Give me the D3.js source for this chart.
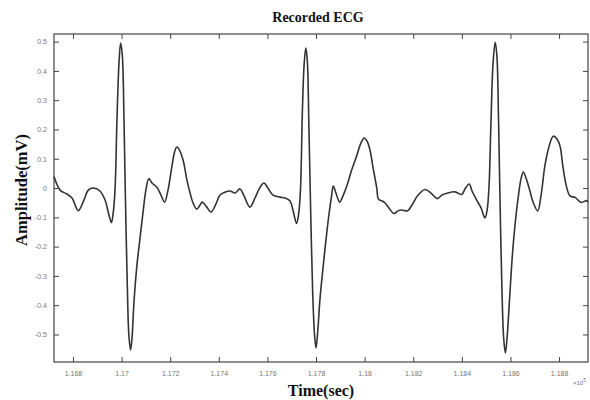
<!DOCTYPE html>
<html>
<head>
<meta charset="utf-8">
<script src="https://cdn.jsdelivr.net/npm/d3@7/dist/d3.min.js"></script>
<style>
  html, body { margin: 0; padding: 0; background: #fff; }
  svg { display: block; }
  .tick text { font-family: "Liberation Sans", Arial, sans-serif; font-size: 7px; fill: #777; }
</style>
</head>
<body>
<svg id="chart" width="590" height="400"></svg>
<script>
// Sample times (x 10^5 s) and recorded amplitudes (mV)
const timeSec = [
  1.16722, 1.16747, 1.16774, 1.16796, 1.16822, 1.16845, 1.16863, 1.16884, 1.16911, 1.16932,
  1.16948, 1.16958, 1.16965, 1.16973, 1.16981, 1.16989, 1.16996, 1.17003, 1.17010, 1.17016,
  1.17024, 1.17030, 1.17037, 1.17043, 1.17051, 1.17063, 1.17076, 1.17088, 1.17100, 1.17112,
  1.17125, 1.17146, 1.17162, 1.17177, 1.17191, 1.17206, 1.17218, 1.17227, 1.17236, 1.17253,
  1.17269, 1.17281, 1.17294, 1.17309, 1.17323, 1.17332, 1.17347, 1.17368, 1.17388, 1.17405,
  1.17425, 1.17446, 1.17467, 1.17487, 1.17504, 1.17528, 1.17549, 1.17570, 1.17586, 1.17602,
  1.17623, 1.17652, 1.17672, 1.17693, 1.17705, 1.17720, 1.17728, 1.17736, 1.17744, 1.17751,
  1.17758, 1.17764, 1.17771, 1.17777, 1.17786, 1.17794, 1.17800, 1.17806, 1.17816, 1.17830,
  1.17841, 1.17853, 1.17864, 1.17871, 1.17882, 1.17897, 1.17911, 1.17928, 1.17944, 1.17967,
  1.17985, 1.17998, 1.18010, 1.18022, 1.18035, 1.18050, 1.18057, 1.18072, 1.18084, 1.18100,
  1.18121, 1.18137, 1.18153, 1.18176, 1.18195, 1.18220, 1.18249, 1.18273, 1.18299, 1.18318,
  1.18338, 1.18372, 1.18400, 1.18413, 1.18430, 1.18442, 1.18461, 1.18479, 1.18495, 1.18504,
  1.18512, 1.18520, 1.18528, 1.18537, 1.18544, 1.18551, 1.18557, 1.18565, 1.18572, 1.18579,
  1.18586, 1.18596, 1.18605, 1.18613, 1.18623, 1.18633, 1.18644, 1.18653, 1.18664, 1.18679,
  1.18693, 1.18712, 1.18726, 1.18742, 1.18759, 1.18776, 1.18792, 1.18804, 1.18816, 1.18829,
  1.18845, 1.18866, 1.18890, 1.18914, 1.18919
];
const amplitudeMv = [
  0.039, -0.007, -0.020, -0.034, -0.077, -0.041, -0.007, 0.000, -0.010, -0.041,
  -0.092, -0.118, -0.089, -0.007, 0.232, 0.420, 0.495, 0.454, 0.232, -0.041,
  -0.348, -0.502, -0.553, -0.512, -0.390, -0.265, -0.170, -0.085, -0.007, 0.032,
  0.017, 0.002, -0.024, -0.048, -0.007, 0.068, 0.123, 0.140, 0.133, 0.096,
  0.027, -0.014, -0.051, -0.072, -0.058, -0.048, -0.061, -0.082, -0.055, -0.024,
  -0.014, -0.010, -0.017, -0.003, -0.027, -0.065, -0.034, 0.003, 0.017, 0.000,
  -0.024, -0.031, -0.034, -0.044, -0.075, -0.121, -0.092, -0.007, 0.266, 0.420,
  0.478, 0.437, 0.198, -0.041, -0.348, -0.502, -0.546, -0.502, -0.382, -0.263,
  -0.177, -0.092, -0.027, 0.007, -0.017, -0.048, -0.027, 0.010, 0.055, 0.109,
  0.154, 0.171, 0.160, 0.130, 0.068, 0.000, -0.038, -0.044, -0.051, -0.068,
  -0.087, -0.078, -0.075, -0.078, -0.058, -0.024, -0.005, -0.017, -0.036, -0.024,
  -0.018, -0.013, -0.022, -0.003, 0.014, -0.010, -0.041, -0.068, -0.102, -0.075,
  0.010, 0.232, 0.420, 0.498, 0.454, 0.232, -0.041, -0.348, -0.512, -0.563,
  -0.512, -0.382, -0.263, -0.177, -0.092, -0.024, 0.034, 0.055, 0.034, -0.007,
  -0.048, -0.078, -0.024, 0.078, 0.143, 0.177, 0.167, 0.143, 0.072, 0.010,
  -0.027, -0.032, -0.049, -0.043, -0.048
];
const xTickValues = [1.168, 1.170, 1.172, 1.174, 1.176, 1.178, 1.180, 1.182, 1.184, 1.186, 1.188];
const xTickLabels = ["1.168", "1.17", "1.172", "1.174", "1.176", "1.178", "1.18", "1.182", "1.184", "1.186", "1.188"];
const yTickValues = [-0.5, -0.4, -0.3, -0.2, -0.1, 0, 0.1, 0.2, 0.3, 0.4, 0.5];
const yTickLabels = ["-0.5", "-0.4", "-0.3", "-0.2", "-0.1", "0", "0.1", "0.2", "0.3", "0.4", "0.5"];
const xDomain = [1.16722, 1.18919];
const yDomain = [-0.594, 0.526];

const svg = d3.select("#chart");
const m = { left: 54, top: 34, right: 588, bottom: 362 };

const x = d3.scaleLinear().domain(xDomain).range([m.left, m.right]);
const y = d3.scaleLinear().domain(yDomain).range([m.bottom, m.top]);

const tickLen = 5;
const axisColor = "#444";

// Bottom axis with inward ticks
const gx = svg.append("g").attr("transform", `translate(0,${m.bottom})`)
  .call(d3.axisBottom(x).tickValues(xTickValues)
    .tickFormat((d, i) => xTickLabels[i]).tickSize(-tickLen).tickPadding(9));
// Top ticks
const gxt = svg.append("g").attr("transform", `translate(0,${m.top})`)
  .call(d3.axisTop(x).tickValues(xTickValues).tickFormat("").tickSize(-tickLen));
// Left axis with inward ticks
const gy = svg.append("g").attr("transform", `translate(${m.left},0)`)
  .call(d3.axisLeft(y).tickValues(yTickValues)
    .tickFormat((d, i) => yTickLabels[i]).tickSize(-tickLen).tickPadding(7));
// Right ticks
const gyr = svg.append("g").attr("transform", `translate(${m.right},0)`)
  .call(d3.axisRight(y).tickValues(yTickValues).tickFormat("").tickSize(-tickLen));

[gx, gxt, gy, gyr].forEach(g => {
  g.select(".domain").remove();
  g.selectAll(".tick line").attr("stroke", axisColor).attr("stroke-width", 1);
});

// Plot frame
svg.append("rect")
  .attr("x", m.left).attr("y", m.top)
  .attr("width", m.right - m.left).attr("height", m.bottom - m.top)
  .attr("fill", "none").attr("stroke", axisColor).attr("stroke-width", 1.2);

// ECG trace
const pts = timeSec.map((t, i) => [t, amplitudeMv[i]]);
const line = d3.line()
  .x(d => x(d[0])).y(d => y(d[1]))
  .curve(d3.curveCatmullRom.alpha(0.5));

svg.append("path")
  .datum(pts)
  .attr("d", line)
  .attr("fill", "none")
  .attr("stroke", "#333")
  .attr("stroke-width", 1.6)
  .attr("stroke-linejoin", "round");

// Exponent marker for the time axis
const expo = svg.append("text")
  .attr("x", 573).attr("y", 385)
  .attr("font-family", "Liberation Sans, Arial, sans-serif")
  .attr("font-size", 6).attr("fill", "#777");
expo.append("tspan").text("×10");
expo.append("tspan").attr("dy", -3).attr("font-size", 5).text("5");

// Titles
svg.append("text")
  .attr("x", 318).attr("y", 22)
  .attr("text-anchor", "middle")
  .attr("font-family", "Liberation Serif, Times New Roman, serif")
  .attr("font-weight", "bold").attr("font-size", 14).attr("fill", "#111")
  .text("Recorded ECG");

svg.append("text")
  .attr("x", 321).attr("y", 396)
  .attr("text-anchor", "middle")
  .attr("font-family", "Liberation Serif, Times New Roman, serif")
  .attr("font-weight", "bold").attr("font-size", 16).attr("fill", "#111")
  .text("Time(sec)");

svg.append("text")
  .attr("transform", "translate(27,190) rotate(-90)")
  .attr("text-anchor", "middle")
  .attr("font-family", "Liberation Serif, Times New Roman, serif")
  .attr("font-weight", "bold").attr("font-size", 16.5).attr("fill", "#111")
  .text("Amplitude(mV)");
</script>
</body>
</html>
